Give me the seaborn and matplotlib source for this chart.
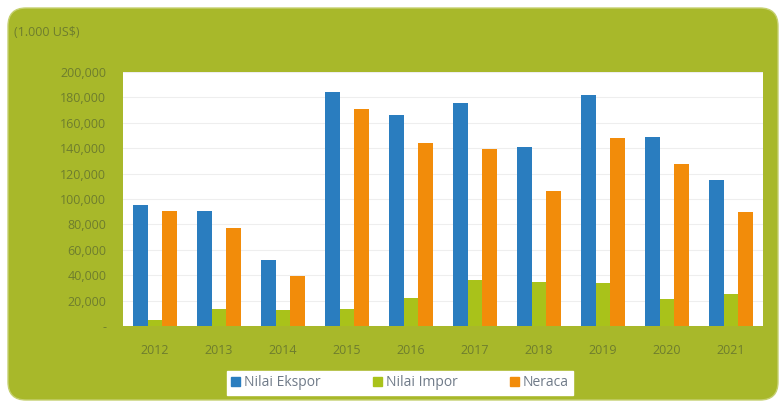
import numpy as np
import pandas as pd
import matplotlib
matplotlib.use("Agg")
import matplotlib.pyplot as plt
from matplotlib.patches import FancyBboxPatch
from matplotlib.ticker import FuncFormatter
import seaborn as sns

years = ["2012", "2013", "2014", "2015", "2016", "2017", "2018", "2019", "2020", "2021"]
ekspor = [95000, 90500, 52000, 184000, 166000, 175500, 141000, 182000, 149000, 115000]
impor = [4500, 13500, 12500, 13000, 22000, 36500, 35000, 34000, 21500, 25000]
neraca = [90500, 77000, 39500, 171000, 144000, 139000, 106000, 148000, 127500, 90000]
series = ["Nilai Ekspor", "Nilai Impor", "Neraca"]
colors = ["#2a7dbf", "#a9c21a", "#f28c0a"]

df = pd.DataFrame({
    "Tahun": years * 3,
    "Nilai": ekspor + impor + neraca,
    "Seri": [series[0]] * len(years) + [series[1]] * len(years) + [series[2]] * len(years),
})

sns.set_theme(style="white")
plt.rcParams["font.family"] = ["Open Sans", "DejaVu Sans"]

W, H = 782, 408
fig = plt.figure(figsize=(W / 100, H / 100), dpi=100)
fig.patch.set_facecolor("white")

bg = fig.add_axes([0, 0, 1, 1], zorder=0)
bg.set_xlim(0, W)
bg.set_ylim(H, 0)
bg.axis("off")
panel = FancyBboxPatch((8, 8), 770, 392,
                       boxstyle="round,pad=0,rounding_size=18",
                       facecolor="#a8b82a", edgecolor="#c5d070", linewidth=1.0)
bg.add_patch(panel)

ax = fig.add_axes([123 / W, (H - 326) / H, 640 / W, 254 / H], zorder=2)
ax.set_facecolor("white")
sns.barplot(data=df, x="Tahun", y="Nilai", hue="Seri", hue_order=series,
            palette=colors, width=0.7, gap=0, ax=ax, saturation=1,
            edgecolor="none", legend=False)

ax.set_ylim(0, 200000)
ax.set_yticks(np.arange(0, 200001, 20000))
ax.yaxis.set_major_formatter(FuncFormatter(lambda v, p: "-" if v == 0 else f"{int(v):,}"))
ax.grid(axis="y", color="#eeeeee", linewidth=0.8)
ax.set_axisbelow(True)
for s in ax.spines.values():
    s.set_visible(False)
ax.set_xlabel("")
ax.set_ylabel("")
tick_color = "#6e7d2e"
ax.tick_params(axis="y", colors=tick_color, labelsize=9, length=0, pad=12)
ax.tick_params(axis="x", colors=tick_color, labelsize=9, length=0, pad=13)

fig.text(14 / W, 1 - 33 / H, "(1.000 US$)", color=tick_color, fontsize=9, va="center", zorder=3)

handles = [plt.Rectangle((0, 0), 1, 1, color=c) for c in colors]
leg = fig.legend(handles, series, loc="center", bbox_to_anchor=(400 / W, 1 - 383 / H),
                 ncol=3, frameon=True, fontsize=10, handlelength=0.6, handleheight=0.6,
                 handletextpad=0.3, columnspacing=3.8, borderpad=0.3, fancybox=False,
                 framealpha=1, borderaxespad=0)
leg.set_zorder(5)
leg.get_frame().set_facecolor("white")
leg.get_frame().set_edgecolor("white")
for t in leg.get_texts():
    t.set_color("#6f7a88")

fig.savefig("out.png", dpi=100)
